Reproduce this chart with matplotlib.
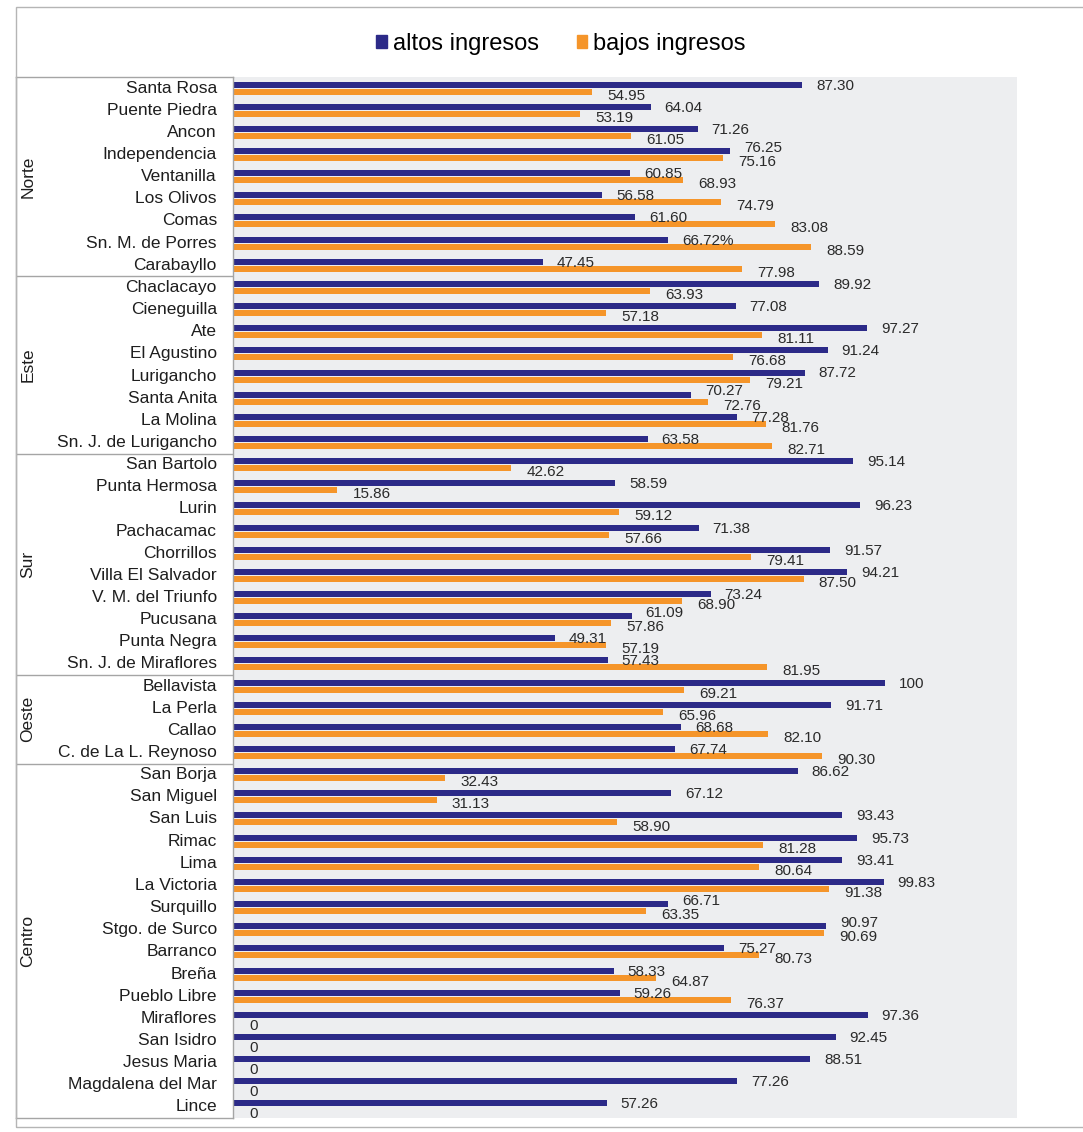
import matplotlib
matplotlib.use("Agg")
from matplotlib import pyplot as plt
from matplotlib.patches import Rectangle, Patch

plt.rcParams['font.family'] = ['Liberation Sans', 'DejaVu Sans']

# zones and districts, top to bottom
zones = ['Norte', 'Este', 'Sur', 'Oeste', 'Centro']
zone_sizes = [9, 8, 10, 4, 16]
districts = [
    'Santa Rosa', 'Puente Piedra', 'Ancon', 'Independencia', 'Ventanilla',
    'Los Olivos', 'Comas', 'Sn. M. de Porres', 'Carabayllo',
    'Chaclacayo', 'Cieneguilla', 'Ate', 'El Agustino', 'Lurigancho',
    'Santa Anita', 'La Molina', 'Sn. J. de Lurigancho',
    'San Bartolo', 'Punta Hermosa', 'Lurin', 'Pachacamac', 'Chorrillos',
    'Villa El Salvador', 'V. M. del Triunfo', 'Pucusana', 'Punta Negra',
    'Sn. J. de Miraflores',
    'Bellavista', 'La Perla', 'Callao', 'C. de La L. Reynoso',
    'San Borja', 'San Miguel', 'San Luis', 'Rimac', 'Lima', 'La Victoria',
    'Surquillo', 'Stgo. de Surco', 'Barranco', 'Breña', 'Pueblo Libre',
    'Miraflores', 'San Isidro', 'Jesus Maria', 'Magdalena del Mar', 'Lince',
]

altos_labels = [
    '87.30', '64.04', '71.26', '76.25', '60.85', '56.58', '61.60', '66.72%', '47.45',
    '89.92', '77.08', '97.27', '91.24', '87.72', '70.27', '77.28', '63.58',
    '95.14', '58.59', '96.23', '71.38', '91.57', '94.21', '73.24', '61.09', '49.31', '57.43',
    '100', '91.71', '68.68', '67.74',
    '86.62', '67.12', '93.43', '95.73', '93.41', '99.83', '66.71', '90.97', '75.27',
    '58.33', '59.26', '97.36', '92.45', '88.51', '77.26', '57.26',
]
bajos_labels = [
    '54.95', '53.19', '61.05', '75.16', '68.93', '74.79', '83.08', '88.59', '77.98',
    '63.93', '57.18', '81.11', '76.68', '79.21', '72.76', '81.76', '82.71',
    '42.62', '15.86', '59.12', '57.66', '79.41', '87.50', '68.90', '57.86', '57.19', '81.95',
    '69.21', '65.96', '82.10', '90.30',
    '32.43', '31.13', '58.90', '81.28', '80.64', '91.38', '63.35', '90.69', '80.73',
    '64.87', '76.37', '0', '0', '0', '0', '0',
]
altos = [float(s.rstrip('%')) for s in altos_labels]
bajos = [float(s.rstrip('%')) for s in bajos_labels]

BLUE = '#2C2A88'
ORANGE = '#F5952A'
PANEL = '#EDEEF0'
LINE = '#A5A5A5'

W, H = 1083, 1132
fig = plt.figure(figsize=(W / 100, H / 100), dpi=100)

top, bottom = 77, 1118
n = len(districts)
ax = fig.add_axes([234 / W, 1 - bottom / H, (1017 - 234) / W, (bottom - top) / H])
ax.set_facecolor(PANEL)
ax.set_xlim(0, 120.3)
ax.set_ylim(n - 0.5, -0.5)
for s in ax.spines.values():
    s.set_visible(False)
ax.set_xticks([])
ax.set_yticks([])

ys = list(range(n))
off = 0.158
h = 0.27
ax.barh([y - off for y in ys], altos, height=h, color=BLUE, zorder=2)
ax.barh([y + off for y in ys], bajos, height=h, color=ORANGE, zorder=2)

# value labels; lift the blue one when both would land in the same spot
for y, a, b, la, lb in zip(ys, altos, bajos, altos_labels, bajos_labels):
    dy_a = 2.3 if abs(a - b) < 4 else -0.7
    ax.annotate(la, (a, y - off), xytext=(10, dy_a), textcoords='offset points',
                ha='left', va='center', fontsize=11, color='#2a2a2a', zorder=3)
    ax.annotate(lb, (b, y + off), xytext=(11, -2.9), textcoords='offset points',
                ha='left', va='center', fontsize=11, color='#2a2a2a', zorder=3)

# category table on the left
lab = fig.add_axes([16 / W, 1 - bottom / H, (233 - 16) / W, (bottom - top) / H])
lab.set_xlim(0, 1)
lab.set_ylim(n - 0.5, -0.5)
lab.set_xticks([])
lab.set_yticks([])
for s in lab.spines.values():
    s.set_color(LINE)
    s.set_linewidth(1)

for y, name in zip(ys, districts):
    lab.text(0.926, y, name, ha='right', va='center', fontsize=12.5, color='#1e1e1e')

start = 0
for zone, size in zip(zones, zone_sizes):
    end = start + size
    if end < n:
        lab.axhline(end - 0.5, color=LINE, lw=1)
    lab.text(0.055, (start + end - 1) / 2, zone, rotation=90, ha='center', va='center',
             fontsize=12.5, color='#1e1e1e')
    start = end

# outer frame
fig.add_artist(Rectangle((16 / W, 1 - 1127 / H), (1200 - 16) / W, (1127 - 7) / H,
                         transform=fig.transFigure, fill=False, ec='#B5B5B5', lw=1))

handles = [Patch(color=BLUE, label='altos ingresos'),
           Patch(color=ORANGE, label='bajos ingresos')]
fig.legend(handles=handles, loc='center', bbox_to_anchor=(561 / W, 1 - 44 / H), ncol=2,
           frameon=False, fontsize=17, handlelength=0.45, handleheight=0.45,
           handletextpad=0.25, columnspacing=1.6)

fig.savefig('out.png', dpi=100)
